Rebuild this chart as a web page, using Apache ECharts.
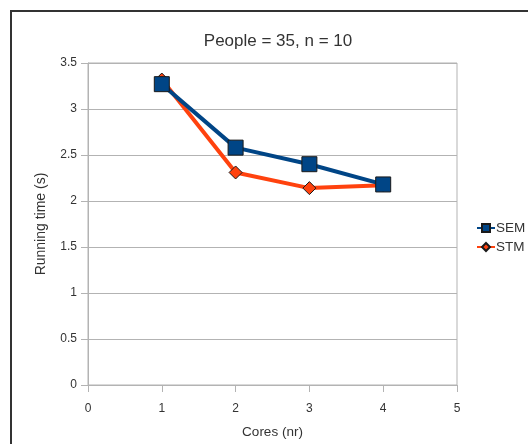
<!DOCTYPE html>
<html>
<head>
<meta charset="utf-8">
<script src="https://cdn.jsdelivr.net/npm/echarts@6/dist/echarts.min.js"></script>
<style>
  html, body { margin: 0; padding: 0; background: #fff; }
  #chart { width: 528px; height: 444px; }
</style>
</head>
<body>
<div id="chart"></div>
<script>
// Running time per core count for the two implementations
const cores = [1, 2, 3, 4];
const semTimes = [3.27, 2.58, 2.40, 2.18];
const stmTimes = [3.32, 2.31, 2.14, 2.17];
const seriesNames = ['SEM', 'STM'];
const chartTitle = 'People = 35, n = 10';

const pairs = (xs, ys) => xs.map((x, i) => [x, ys[i]]);

const chart = echarts.init(document.getElementById('chart'), null, { renderer: 'canvas' });
const font = 'Liberation Sans, Arial, sans-serif';

chart.setOption({
  animation: false,
  backgroundColor: '#fff',
  textStyle: { fontFamily: font },
  graphic: [{
    type: 'rect',
    shape: { x: 11, y: 11, width: 700, height: 700 },
    style: { fill: 'none', stroke: '#333', lineWidth: 2 },
    silent: true
  }],
  title: {
    text: chartTitle,
    left: 273,
    top: 28,
    textAlign: 'center',
    textStyle: { fontFamily: font, fontSize: 17, fontWeight: 'normal', color: '#333' }
  },
  legend: {
    orient: 'vertical',
    left: 471,
    top: 216,
    itemWidth: 18,
    itemHeight: 10,
    itemGap: 5,
    textStyle: { fontFamily: font, fontSize: 13.5, color: '#333', padding: [0, 0, 0, -4] },
    data: seriesNames
  },
  grid: { left: 88, top: 63, right: 71, bottom: 59, show: true, borderColor: '#b3b3b3', borderWidth: 1 },
  xAxis: {
    type: 'value',
    min: 0, max: 5, interval: 1,
    name: 'Cores (nr)',
    nameLocation: 'middle',
    nameGap: 40,
    nameTextStyle: { fontFamily: font, fontSize: 13.5, color: '#333' },
    axisLine: { show: true, lineStyle: { color: '#b3b3b3' } },
    axisTick: { show: true, length: 7, lineStyle: { color: '#b3b3b3' } },
    axisLabel: { fontFamily: font, fontSize: 12, color: '#333', margin: 18 },
    splitLine: { show: false }
  },
  yAxis: {
    type: 'value',
    min: 0, max: 3.5, interval: 0.5,
    name: 'Running time (s)',
    nameLocation: 'middle',
    nameGap: 40,
    nameTextStyle: { fontFamily: font, fontSize: 14, color: '#333' },
    axisLine: { show: true, lineStyle: { color: '#b3b3b3' } },
    axisTick: { show: true, length: 7, lineStyle: { color: '#b3b3b3' } },
    axisLabel: { fontFamily: font, fontSize: 12, color: '#333', margin: 11 },
    splitLine: { show: true, lineStyle: { color: '#b3b3b3' } }
  },
  series: [
    {
      name: seriesNames[0],
      type: 'line',
      data: pairs(cores, semTimes),
      symbol: 'rect',
      symbolSize: 15,
      lineStyle: { color: '#004586', width: 4 },
      itemStyle: { color: '#004586', borderColor: '#1a1a1a', borderWidth: 1 },
      z: 2
    },
    {
      name: seriesNames[1],
      type: 'line',
      data: pairs(cores, stmTimes),
      symbol: 'diamond',
      symbolSize: 13,
      lineStyle: { color: '#ff420e', width: 4 },
      itemStyle: { color: '#ff420e', borderColor: '#1a1a1a', borderWidth: 1 },
      z: 1
    }
  ]
});
</script>
</body>
</html>
